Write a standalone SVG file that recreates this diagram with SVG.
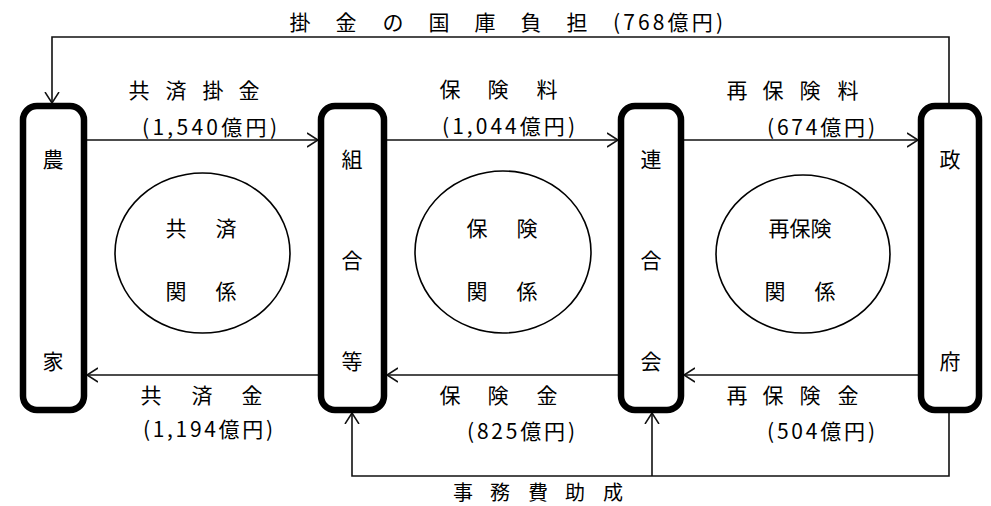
<svg xmlns="http://www.w3.org/2000/svg" width="991" height="506" viewBox="0 0 991 506">
<defs>
<style>
text{font-family:"Noto Sans CJK JP","Noto Sans",sans-serif;font-size:21px;fill:#000;dominant-baseline:central}
.c{text-anchor:middle}
.box{fill:#fff;stroke:#000;stroke-width:6.5}
.ell{fill:#fff;stroke:#000;stroke-width:1.6}
.ln{fill:none;stroke:#111;stroke-width:1.6}
</style>
<marker id="ah" markerWidth="14" markerHeight="18" refX="11" refY="8" orient="auto" markerUnits="userSpaceOnUse">
<path d="M0,1 L11,8 L0,15" fill="none" stroke="#111" stroke-width="1.5"/>
</marker>
</defs>
<rect width="991" height="506" fill="#fff"/>

<g id="connectors">
<path class="ln" d="M949,103 V37 H52 V103" marker-end="url(#ah)"/>
<line class="ln" x1="87" y1="140" x2="318" y2="140" marker-end="url(#ah)"/>
<line class="ln" x1="387" y1="140" x2="618" y2="140" marker-end="url(#ah)"/>
<line class="ln" x1="684" y1="140" x2="918" y2="140" marker-end="url(#ah)"/>
<line class="ln" x1="318" y1="375" x2="87" y2="375" marker-end="url(#ah)"/>
<line class="ln" x1="618" y1="375" x2="387" y2="375" marker-end="url(#ah)"/>
<line class="ln" x1="918" y1="375" x2="684" y2="375" marker-end="url(#ah)"/>
<path class="ln" d="M949,413 V476 H352 V413" marker-end="url(#ah)"/>
<path class="ln" d="M652,476 V413" marker-end="url(#ah)"/>
</g>

<g id="labels">
<text x="300 346 393 439 485 531 577" y="21" class="c">掛金の国庫負担</text>
<text x="613" y="21" textLength="110" lengthAdjust="spacing">(768億円)</text>
<text x="139 176 213 249" y="89" class="c">共済掛金</text>
<text x="142" y="126" textLength="135" lengthAdjust="spacing">(1,540億円)</text>
<text x="450 498 547" y="88" class="c">保険料</text>
<text x="442" y="125" textLength="133" lengthAdjust="spacing">(1,044億円)</text>
<text x="737 773 810 848" y="89" class="c">再保険料</text>
<text x="767" y="126" textLength="108" lengthAdjust="spacing">(674億円)</text>
<text x="151 202 252" y="394" class="c">共済金</text>
<text x="143" y="428" textLength="130" lengthAdjust="spacing">(1,194億円)</text>
<text x="450 498 547" y="394" class="c">保険金</text>
<text x="467" y="430" textLength="108" lengthAdjust="spacing">(825億円)</text>
<text x="737 773 810 848" y="394" class="c">再保険金</text>
<text x="767" y="430" textLength="108" lengthAdjust="spacing">(504億円)</text>
<text x="463 500 538 575 613" y="491" class="c" style="font-size:20px">事務費助成</text>
</g>

<g id="node-nouka">
<rect class="box" x="23" y="106" width="61" height="304" rx="14"/>
<text x="53" y="158" class="c">農</text>
<text x="53" y="360" class="c">家</text>
</g>
<g id="node-kumiai">
<rect class="box" x="321" y="106" width="63" height="304" rx="14"/>
<text x="352" y="158" class="c">組</text>
<text x="352" y="259" class="c">合</text>
<text x="352" y="360" class="c">等</text>
</g>
<g id="node-rengokai">
<rect class="box" x="621" y="106" width="60" height="304" rx="14"/>
<text x="651" y="158" class="c">連</text>
<text x="651" y="259" class="c">合</text>
<text x="651" y="360" class="c">会</text>
</g>
<g id="node-seifu">
<rect class="box" x="921" y="106" width="58" height="304" rx="14"/>
<text x="950" y="158" class="c">政</text>
<text x="950" y="360" class="c">府</text>
</g>

<g id="rel-kyosai">
<ellipse class="ell" cx="202.5" cy="253" rx="87.5" ry="80"/>
<text x="176 226" y="227" class="c">共済</text>
<text x="176 226" y="290" class="c">関係</text>
</g>
<g id="rel-hoken">
<ellipse class="ell" cx="503" cy="252" rx="88" ry="81"/>
<text x="477 527" y="227" class="c">保険</text>
<text x="477 527" y="290" class="c">関係</text>
</g>
<g id="rel-saihoken">
<ellipse class="ell" cx="803" cy="254" rx="87" ry="79"/>
<text x="800" y="227" class="c">再保険</text>
<text x="775 825" y="290" class="c">関係</text>
</g>
</svg>
